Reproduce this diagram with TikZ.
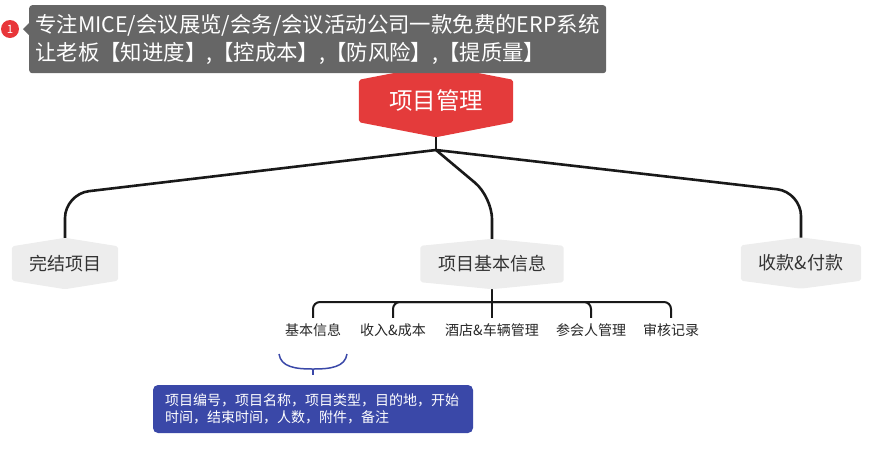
\documentclass[tikz,border=0pt]{standalone}
\usepackage{fontspec}
\setmainfont{Noto Sans CJK SC}
\usepackage{tikz}
\usetikzlibrary{calc,backgrounds}
\definecolor{notegray}{RGB}{102,102,102}
\definecolor{rootred}{HTML}{E43B3B}
\definecolor{badgered}{HTML}{E8363A}
\definecolor{childgray}{HTML}{EDEDED}
\definecolor{detailblue}{HTML}{3A48A8}
\tikzstyle{branch}=[line width=2.6pt, black!90]
\tikzstyle{bus}=[line width=2pt, black!90]
\tikzstyle{hexnode}=[inner sep=0pt, text=black!80, font=\fontsize{18}{20}\selectfont]
\tikzstyle{leaf}=[inner sep=0pt, minimum height=24pt, text=black!85, font=\fontsize{14}{16}\selectfont]
\tikzstyle{note}=[fill=notegray, text=white, rounded corners=3pt, minimum width=577pt, minimum height=68pt, text width=565pt, inner xsep=6pt, align=left, font=\fontsize{21.4}{28}\selectfont]
\tikzstyle{detail}=[fill=detailblue, text=white, rounded corners=5pt, minimum width=320pt, minimum height=48pt, text width=296pt, inner xsep=12pt, align=left, font=\fontsize{14}{17}\selectfont]
\newcommand{\hexfill}[3]{\fill[#2, rounded corners=2pt] (#1.north west) -- ($(#1.north)+(0,-#3)$) -- (#1.north east) -- (#1.south east) -- ($(#1.south)+(0,#3)$) -- (#1.south west) -- cycle;}

\begin{document}
\begin{tikzpicture}[x=1pt,y=-1pt]
\useasboundingbox (0,0) rectangle (869,448);
\node[hexnode, minimum width=154pt, minimum height=42pt, text=white, font=\fontsize{23.5}{26}\selectfont] (root) at (436,101) {项目管理};
\node[hexnode, minimum width=106pt, minimum height=34pt] (done) at (65,263.5) {完结项目};
\node[hexnode, minimum width=143pt, minimum height=36pt] (info) at (492,264) {项目基本信息};
\node[hexnode, minimum width=120pt, minimum height=35pt] (pay) at (801,263) {收款\&付款};
\coordinate (j) at (436,150);
\coordinate (bus) at (492,302);
\foreach \n/\x/\t in {a/313/基本信息, b/393/收入\&成本, c/492/酒店\&车辆管理, d/591/参会人管理, e/671/审核记录} {
	\node[leaf] (l\n) at (\x,330) {\t};
}
\node[detail] (detail) at (313,409) {项目编号，项目名称，项目类型，目的地，开始\\时间，结束时间，人数，附件，备注};
\coordinate (bl) at (279,354);
\coordinate (br) at (347,354);
\coordinate (bm) at (313,369);
\coordinate (bt) at (313,375);
\draw[detailblue, line width=1.5pt] (bl) .. controls (281,367) and (295,369) .. (bm) .. controls (331,369) and (345,367) .. (br);
\draw[detailblue, line width=1.5pt] (bm) -- (bt);
\node[note, anchor=north west] (note) at (29,5) {专注MICE/会议展览/会务/会议活动公司一款免费的ERP系统\\让老板【知进度】,【控成本】,【防风险】,【提质量】};
\fill[notegray] (29,23) -- (23,29) -- (29,35) -- cycle;
\node[circle, fill=badgered, text=white, minimum size=18pt, inner sep=0pt, font=\fontsize{11.5}{11.5}\selectfont] (badge) at (10,29) {1};
\begin{pgfonlayer}{background}
\draw[branch] (root.south) -- (j);
\draw[branch, rounded corners=24pt] (j) -- (done.north |- 0,194) -- (done.north);
\draw[branch, rounded corners=22pt] (j) -- (info.north |- 0,197) -- (info.north);
\draw[branch, rounded corners=24pt] (j) -- (pay.north |- 0,192) -- (pay.north);
\draw[bus] (info.south) -- (lc.north);
\foreach \n in {a,b,d,e} {
	\draw[bus, rounded corners=7pt] (bus) -| (l\n.north);
}
\hexfill{root}{rootred}{15}
\hexfill{done}{childgray}{8.5}
\hexfill{info}{childgray}{7}
\hexfill{pay}{childgray}{8}
\end{pgfonlayer}
\end{tikzpicture}
\end{document}
